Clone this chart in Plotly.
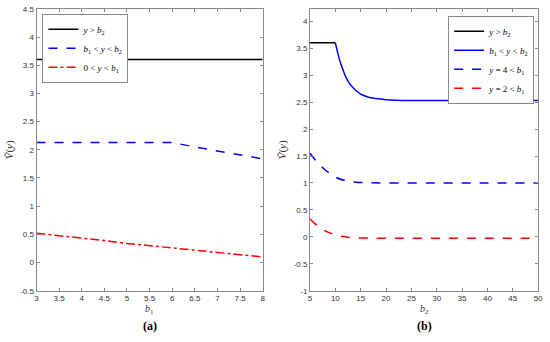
import plotly.graph_objects as go

# ---- data: panel (a) ----
b1 = [3, 3.5, 4, 4.5, 5, 5.5, 6, 6.5, 7, 7.5, 8]
a_above = [3.6] * 11
a_mid = [2.13, 2.13, 2.13, 2.13, 2.13, 2.13, 2.13, 2.05, 1.98, 1.91, 1.84]
a_low = [0.52, 0.48, 0.44, 0.39, 0.34, 0.30, 0.25, 0.21, 0.17, 0.14, 0.10]

# ---- data: panel (b) ----
b2_above = [5, 10]
b_above = [3.6, 3.6]
b2_mid = [10, 10.5, 11, 11.5, 12, 12.5, 13, 14, 15, 16, 17, 18, 20, 22, 25, 30, 40, 50]
b_mid = [3.60, 3.40, 3.23, 3.10, 2.98, 2.89, 2.82, 2.72, 2.65, 2.61, 2.58, 2.565,
         2.545, 2.535, 2.53, 2.53, 2.53, 2.53]
b2_y4 = [5, 6, 7, 8, 9, 10, 11, 12, 13, 14, 16, 20, 30, 40, 50]
b_y4 = [1.55, 1.43, 1.33, 1.24, 1.17, 1.11, 1.07, 1.045, 1.03, 1.015, 1.005, 1.0, 1.0, 1.0, 1.0]
b2_y2 = [5, 6, 7, 8, 9, 10, 11, 12, 13, 14, 20, 30, 40, 50]
b_y2 = [0.33, 0.24, 0.17, 0.11, 0.07, 0.04, 0.015, 0.0, -0.015, -0.02, -0.025, -0.025, -0.025, -0.025]

xticks_a = [3, 3.5, 4, 4.5, 5, 5.5, 6, 6.5, 7, 7.5, 8]
yticks_a = [-0.5, 0, 0.5, 1, 1.5, 2, 2.5, 3, 3.5, 4, 4.5]
xticks_b = [5, 10, 15, 20, 25, 30, 35, 40, 45, 50]
yticks_b = [-1, -0.5, 0, 0.5, 1, 1.5, 2, 2.5, 3, 3.5, 4]

lbl_above = "<i>y</i> > <i>b</i><sub>2</sub>"
lbl_mid = "<i>b</i><sub>1</sub> < <i>y</i> < <i>b</i><sub>2</sub>"
lbl_low = "0 < <i>y</i> < <i>b</i><sub>1</sub>"
lbl_y4 = "<i>y</i> = 4 < <i>b</i><sub>1</sub>"
lbl_y2 = "<i>y</i> = 2 < <i>b</i><sub>1</sub>"

W = 1.5
fig = go.Figure()
fig.add_trace(go.Scatter(x=b1, y=a_above, mode="lines", name=lbl_above,
                         line=dict(color="black", width=W), xaxis="x", yaxis="y", legend="legend"))
fig.add_trace(go.Scatter(x=b1, y=a_mid, mode="lines", name=lbl_mid,
                         line=dict(color="blue", width=W, dash="dash"), xaxis="x", yaxis="y", legend="legend"))
fig.add_trace(go.Scatter(x=b1, y=a_low, mode="lines", name=lbl_low,
                         line=dict(color="red", width=W, dash="dashdot"), xaxis="x", yaxis="y", legend="legend"))

fig.add_trace(go.Scatter(x=b2_above, y=b_above, mode="lines", name=lbl_above,
                         line=dict(color="black", width=W), xaxis="x2", yaxis="y2", legend="legend2"))
fig.add_trace(go.Scatter(x=b2_mid, y=b_mid, mode="lines", name=lbl_mid, line_shape="spline",
                         line=dict(color="blue", width=W), xaxis="x2", yaxis="y2", legend="legend2"))
fig.add_trace(go.Scatter(x=b2_y4, y=b_y4, mode="lines", name=lbl_y4, line_shape="spline",
                         line=dict(color="blue", width=W, dash="dash"), xaxis="x2", yaxis="y2", legend="legend2"))
fig.add_trace(go.Scatter(x=b2_y2, y=b_y2, mode="lines", name=lbl_y2, line_shape="spline",
                         line=dict(color="red", width=W, dash="dash"), xaxis="x2", yaxis="y2", legend="legend2"))

GRAY = "#8a8a8a"
TICKFONT = dict(family="Liberation Sans, Arial, sans-serif", size=8, color="#333")
SERIF = "Liberation Serif, Times New Roman, serif"

common_ax = dict(showline=True, linecolor=GRAY, linewidth=1, mirror="ticks", ticks="inside",
                 ticklen=3, tickcolor=GRAY, showgrid=False, zeroline=False, tickfont=TICKFONT,
                 ticklabeloverflow="allow")

ydom = [1 - 294.5 / 342, 1 - 5 / 342]
fig.update_layout(
    width=550, height=342, margin=dict(l=0, r=0, t=0, b=0),
    plot_bgcolor="white", paper_bgcolor="white",
    xaxis=dict(domain=[35 / 550, 264 / 550], range=[3, 8], tickvals=xticks_a,
               ticktext=[f"{v:g}" for v in xticks_a], anchor="y", **common_ax),
    yaxis=dict(domain=ydom, range=[-0.5, 4.5], tickvals=yticks_a,
               ticktext=[f"{v:g}" for v in yticks_a], anchor="x",
               title=dict(text="<i>Ṽ</i>(<i>y</i>)", font=dict(family=SERIF, size=11, color="#333"), standoff=4),
               **common_ax),
    xaxis2=dict(domain=[312 / 550, 543 / 550], range=[5, 50], tickvals=xticks_b,
                ticktext=[f"{v:g}" for v in xticks_b], anchor="y2", **common_ax),
    yaxis2=dict(domain=ydom, range=[-1, 4.23], tickvals=yticks_b,
                ticktext=[f"{v:g}" for v in yticks_b], anchor="x2",
                title=dict(text="<i>Ṽ</i>(<i>y</i>)", font=dict(family=SERIF, size=11, color="#333"), standoff=4),
                **common_ax),
    legend=dict(x=41 / 550, y=1 - 10 / 342, xanchor="left", yanchor="top",
                bgcolor="white", bordercolor=GRAY, borderwidth=1,
                font=dict(family=SERIF, size=9, color="black"), tracegroupgap=0,
                itemwidth=30),
    legend2=dict(x=539 / 550, y=1 - 12 / 342, xanchor="right", yanchor="top",
                 bgcolor="white", bordercolor=GRAY, borderwidth=1,
                 font=dict(family=SERIF, size=9, color="black"), tracegroupgap=0,
                 itemwidth=30),
    annotations=[
        dict(text="<i>b</i><sub>1</sub>", x=(35 + 264) / 2 / 550, y=1 - 314 / 342, xref="paper", yref="paper",
             xanchor="center", yanchor="middle",
             showarrow=False, font=dict(family=SERIF, size=10, color="#333")),
        dict(text="<i>b</i><sub>2</sub>", x=(312 + 543) / 2 / 550, y=1 - 314 / 342, xref="paper", yref="paper",
             xanchor="center", yanchor="middle",
             showarrow=False, font=dict(family=SERIF, size=10, color="#333")),
        dict(text="<b>(a)</b>", x=(35 + 264) / 2 / 550, y=1 - 331 / 342, xref="paper", yref="paper",
             xanchor="center", yanchor="middle",
             showarrow=False, font=dict(family=SERIF, size=12, color="black")),
        dict(text="<b>(b)</b>", x=(312 + 543) / 2 / 550, y=1 - 331 / 342, xref="paper", yref="paper",
             xanchor="center", yanchor="middle",
             showarrow=False, font=dict(family=SERIF, size=12, color="black")),
    ],
    showlegend=True,
)

fig.write_html("out.html", config={"displayModeBar": False},
               post_script="document.body.style.margin='0';document.body.style.overflow='hidden';")
